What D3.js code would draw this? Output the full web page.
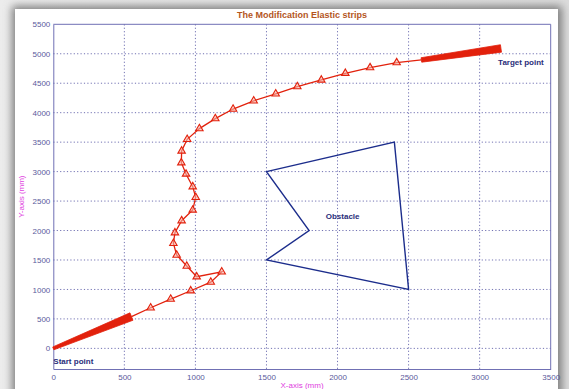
<!DOCTYPE html>
<html>
<head>
<meta charset="utf-8">
<script src="https://cdn.jsdelivr.net/npm/d3@7/dist/d3.min.js"></script>
<style>
  html, body { margin: 0; padding: 0; background: #d9d9d9; }
  svg { display: block; }
  text { font-family: Arial, "Liberation Sans", sans-serif; }
</style>
</head>
<body>
<svg id="chart" width="569" height="389"></svg>
<script>
// Elastic strip path (mm) between the dense start and target sections
const pathX = [550, 685, 826, 967, 1108, 1185, 1009, 939, 868, 845, 856, 903, 981, 1002, 981, 934, 901, 903, 942, 1028, 1140, 1265, 1410, 1565, 1717, 1886, 2055, 2229, 2416, 2590];
const pathY = [540, 689, 837, 978, 1124, 1298, 1216, 1397, 1584, 1783, 1963, 2167, 2348, 2563, 2744, 2959, 3151, 3350, 3548, 3730, 3900, 4062, 4202, 4320, 4442, 4555, 4669, 4764, 4849, 4895];

// Dense strip sections near the start and the target
const startStripX = [0, 550];
const startStripY = [0, 540];
const targetStripX = [2590, 3150];
const targetStripY = [4895, 5090];

// Obstacle outline
const obstacleX = [1500, 2400, 2500, 1500, 1800];
const obstacleY = [3000, 3500, 1000, 1500, 2000];

const xTicks = [0, 500, 1000, 1500, 2000, 2500, 3000, 3500];
const yTicks = [0, 500, 1000, 1500, 2000, 2500, 3000, 3500, 4000, 4500, 5000, 5500];

const svg = d3.select("#chart");

// Window-style frame with a soft shadow
const defs = svg.append("defs");
const blur = defs.append("filter").attr("id", "shadow")
  .attr("x", "-10%").attr("y", "-10%").attr("width", "120%").attr("height", "120%");
blur.append("feGaussianBlur").attr("stdDeviation", 4);
const bg = defs.append("linearGradient").attr("id", "bgGrad").attr("x1", 0).attr("x2", 1).attr("y1", 0).attr("y2", 0);
bg.append("stop").attr("offset", "0%").attr("stop-color", "#ececec");
bg.append("stop").attr("offset", "100%").attr("stop-color", "#dcdcdc");
svg.append("rect").attr("width", 569).attr("height", 389).attr("fill", "url(#bgGrad)");
svg.append("rect").attr("x", 12).attr("y", 6).attr("width", 550).attr("height", 400)
  .attr("fill", "#7e7e7e").attr("filter", "url(#shadow)");
svg.append("rect").attr("x", 15).attr("y", 9).attr("width", 543).attr("height", 400).attr("fill", "#ffffff");

const x = d3.scaleLinear().domain([0, 3500]).range([53.3, 550.7]);
const y = d3.scaleLinear().domain([-350, 5500]).range([369, 24.3]);
const plotLeft = x.range()[0], plotRight = x.range()[1], plotTop = y.range()[1], plotBottom = y.range()[0];

const gridColor = "#5a5aa6";
const axisColor = "#7070b4";
const labelColor = "#5a5a9c";

// Grid lines
svg.append("g").selectAll("line").data(xTicks.filter(d => d > 0 && d < 3500)).join("line")
  .attr("x1", d => x(d)).attr("x2", d => x(d)).attr("y1", plotTop).attr("y2", plotBottom)
  .attr("stroke", gridColor).attr("stroke-width", 1).attr("stroke-dasharray", "1.2,2.2").attr("opacity", 0.85);
svg.append("g").selectAll("line").data(yTicks.filter(d => d < 5500)).join("line")
  .attr("y1", d => y(d)).attr("y2", d => y(d)).attr("x1", plotLeft).attr("x2", plotRight)
  .attr("stroke", gridColor).attr("stroke-width", 1).attr("stroke-dasharray", "1.2,2.2").attr("opacity", 0.85);

// Axes
const xAxis = svg.append("g").attr("transform", `translate(0,${plotBottom})`)
  .call(d3.axisBottom(x).tickValues(xTicks).tickSize(0).tickPadding(5).tickFormat(d3.format("d")));
const yAxis = svg.append("g").attr("transform", `translate(${plotLeft},0)`)
  .call(d3.axisLeft(y).tickValues(yTicks).tickSize(0).tickPadding(3).tickFormat(d3.format("d")));
[xAxis, yAxis].forEach(g => {
  g.select(".domain").attr("stroke", axisColor);
  g.selectAll("text").attr("fill", labelColor).attr("font-size", 8).attr("font-family", "Arial, 'Liberation Sans', sans-serif");
});
// Box edges
svg.append("line").attr("x1", plotLeft).attr("x2", plotRight).attr("y1", plotTop).attr("y2", plotTop).attr("stroke", axisColor);
svg.append("line").attr("x1", plotRight).attr("x2", plotRight).attr("y1", plotTop).attr("y2", plotBottom).attr("stroke", axisColor);

// Obstacle
const obstaclePts = obstacleX.map((d, i) => [x(d), y(obstacleY[i])]);
svg.append("path").attr("d", d3.line()(obstaclePts) + "Z")
  .attr("fill", "none").attr("stroke", "#1c2d8c").attr("stroke-width", 1.4).attr("stroke-linejoin", "miter");

const red = "#e2210c";

// Tapered band for a dense strip section
function band(xs, ys, w0, w1) {
  const p0 = [x(xs[0]), y(ys[0])], p1 = [x(xs[1]), y(ys[1])];
  const dx = p1[0] - p0[0], dy = p1[1] - p0[1], len = Math.hypot(dx, dy);
  const nx = -dy / len, ny = dx / len;
  const pts = [
    [p0[0] + nx * w0 / 2, p0[1] + ny * w0 / 2],
    [p1[0] + nx * w1 / 2, p1[1] + ny * w1 / 2],
    [p1[0] - nx * w1 / 2, p1[1] - ny * w1 / 2],
    [p0[0] - nx * w0 / 2, p0[1] - ny * w0 / 2]
  ];
  svg.append("path").attr("d", d3.line()(pts) + "Z").attr("fill", red).attr("stroke", red).attr("stroke-width", 0.8);
}
band(startStripX, startStripY, 3, 8);
band(targetStripX, targetStripY, 4.5, 7.5);

// Strip path line
const pathPts = pathX.map((d, i) => [x(d), y(pathY[i])]);
svg.append("path").attr("d", d3.line()(pathPts))
  .attr("fill", "none").attr("stroke", red).attr("stroke-width", 1.3);

// Triangle markers
const tri = d3.symbol().type(d3.symbolTriangle).size(24);
svg.append("g").selectAll("path").data(pathPts.slice(1, -1)).join("path")
  .attr("d", tri).attr("transform", d => `translate(${d[0]},${d[1]})`)
  .attr("fill", "#f6b4a8").attr("fill-opacity", 0.6).attr("stroke", red).attr("stroke-width", 1.1);

// Annotations
svg.append("text").attr("x", (plotLeft + plotRight) / 2).attr("y", 17.5).attr("text-anchor", "middle")
  .attr("font-size", 9).attr("font-weight", "bold").attr("fill", "#b4561e")
  .text("The Modification Elastic strips");
svg.append("text").attr("x", x(0)).attr("y", 364).attr("font-size", 8).attr("font-weight", "bold")
  .attr("fill", "#2a2e7a").text("Start point");
svg.append("text").attr("x", x(3130)).attr("y", 65).attr("font-size", 8).attr("font-weight", "bold")
  .attr("fill", "#2a2e7a").text("Target point");
svg.append("text").attr("x", x(2036)).attr("y", 219).attr("text-anchor", "middle").attr("font-size", 8)
  .attr("font-weight", "bold").attr("fill", "#2a2e7a").text("Obstacle");
svg.append("text").attr("x", (plotLeft + plotRight) / 2).attr("y", 388).attr("text-anchor", "middle")
  .attr("font-size", 8).attr("fill", "#e040e0").text("X-axis (mm)");
svg.append("text").attr("transform", `translate(24,${(plotTop + plotBottom) / 2}) rotate(-90)`)
  .attr("text-anchor", "middle").attr("font-size", 8).attr("fill", "#e040e0").text("Y-axis (mm)");
</script>
</body>
</html>
